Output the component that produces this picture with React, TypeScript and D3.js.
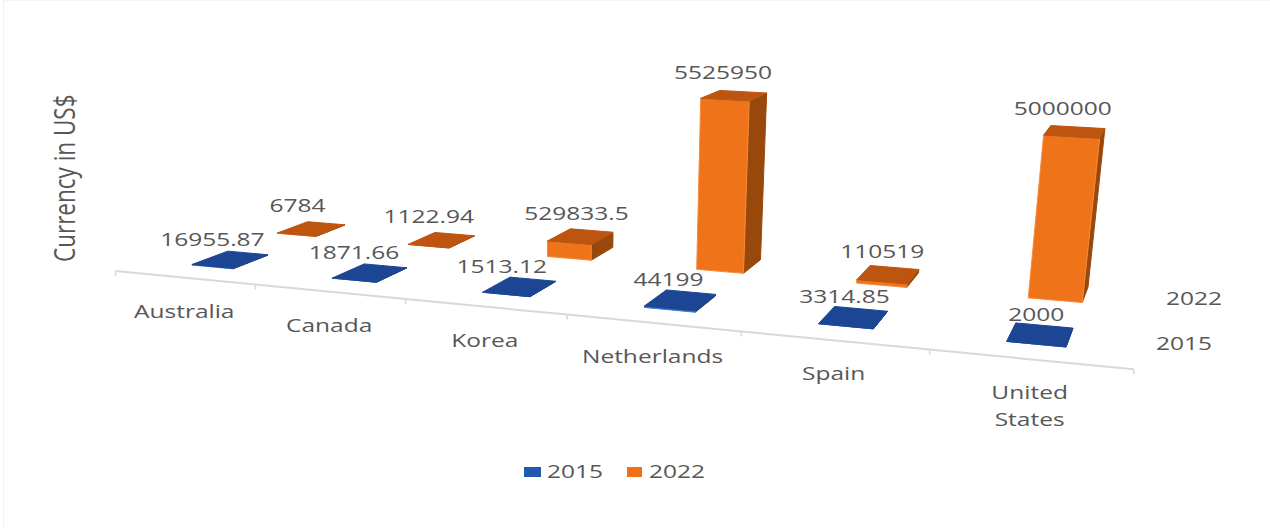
import React from "react";
import * as d3 from "d3";

// Chart data
const categories = ["Australia", "Canada", "Korea", "Netherlands", "Spain", "United States"];
const seriesNames = ["2015", "2022"];
const values2015 = [16955.87, 1871.66, 1513.12, 44199, 3314.85, 2000];
const values2022 = [6784, 1122.94, 529833.5, 5525950, 110519, 5000000];
const labels2015 = ["16955.87", "1871.66", "1513.12", "44199", "3314.85", "2000"];
const labels2022 = ["6784", "1122.94", "529833.5", "5525950", "110519", "5000000"];

// Small sideways label shifts, per category
const labelDx2015 = [-18, -16, -18, -12, -9, -4];
const labelDx2022 = [-14, -13, -4, -11, -6, -12];

const WIDTH = 1270;
const HEIGHT = 528;
const TEXT = "#575757";
const FONT = "'Open Sans', sans-serif";
const STRETCH = 1.29;

const blueFaces = { top: "#1c4593", front: "#2a62bd", side: "#173a7c", edge: "#3f78cf" };
const orangeFaces = { top: "#bd5410", front: "#ef7419", side: "#99480c", edge: "#f58a3a" };

// Extra foreshortening along the category axis
const warpU = (u: number) => u - 0.007 * u * (6 - u);

// Floor calibration: category/depth coordinates and where they land on screen
const floorFrom = [[0.35, 0.3], [5.65, 0.3], [0.65, 1.7], [5.65, 1.7]].map(([u, v]) => [warpU(u), v]);
const floorTo = [[192, 265], [1066, 347], [345, 225], [1088, 287]];
const verticalVanish = [586, 5000];

function solveHomography(from: number[][], to: number[][]) {
  const m: number[][] = [];
  from.forEach(([u, v], i) => {
    const [x, y] = to[i];
    m.push([u, v, 1, 0, 0, 0, -u * x, -v * x, x]);
    m.push([0, 0, 0, u, v, 1, -u * y, -v * y, y]);
  });
  for (let c = 0; c < 8; c++) {
    let p = c;
    for (let r = c + 1; r < 8; r++) if (Math.abs(m[r][c]) > Math.abs(m[p][c])) p = r;
    [m[c], m[p]] = [m[p], m[c]];
    for (let r = 0; r < 8; r++) {
      if (r === c) continue;
      const f = m[r][c] / m[c][c];
      for (let k = c; k < 9; k++) m[r][k] -= f * m[c][k];
    }
  }
  return m.map((row, i) => row[8] / row[i]);
}

const H = solveHomography(floorFrom, floorTo);

const uScale = d3.scaleBand<string>().domain(categories).range([0, 6]).paddingInner(0.7).paddingOuter(0.35);
const vScale = d3.scaleBand<string>().domain(seriesNames).range([0, 2]).paddingInner(0.6).paddingOuter(0.3);
// Bar height in camera units; the tallest bar (Netherlands 2022) rises 171px on screen
const floorHom = (rawU: number, v: number) => {
  const u = warpU(rawU);
  return [
    H[0] * u + H[1] * v + H[2],
    H[3] * u + H[4] * v + H[5],
    H[6] * u + H[7] * v + 1,
  ];
};
const refFloor = floorHom(uScale("Netherlands") as number, vScale("2022") as number);
const refY = refFloor[1] / refFloor[2];
const refT = -171 / (verticalVanish[1] - refY);
const refLift = (refT * refFloor[2]) / (1 - refT);
const hScale = d3.scaleLinear().domain([0, d3.max(values2022) as number]).range([0, refLift]);

function project(u: number, v: number, value: number): [number, number] {
  const [X, Y, W] = floorHom(u, v);
  const l = hScale(value);
  return [(X + l * verticalVanish[0]) / (W + l), (Y + l * verticalVanish[1]) / (W + l)];
}

const polygon = d3.line().curve(d3.curveLinearClosed);
const segment = d3.line();

function Label({ x, y, text, size = 19, rotate = 0, anchor = "middle" }: any) {
  return (
    <text
      transform={`translate(${x},${y}) scale(${STRETCH},1) rotate(${rotate})`}
      textAnchor={anchor}
      fontFamily={FONT}
      fontSize={size}
      fill={TEXT}
    >
      {text}
    </text>
  );
}

function Bar({ category, series, value, faces }: any) {
  const u0 = uScale(category) as number;
  const u1 = u0 + uScale.bandwidth();
  const v0 = vScale(series) as number;
  const v1 = v0 + vScale.bandwidth();
  const topFace = [project(u0, v0, value), project(u1, v0, value), project(u1, v1, value), project(u0, v1, value)];
  const front = [project(u0, v0, 0), project(u1, v0, 0), project(u1, v0, value), project(u0, v0, value)];
  const side = [project(u1, v0, 0), project(u1, v1, 0), project(u1, v1, value), project(u1, v0, value)];
  return (
    <g strokeWidth={1} strokeLinejoin="round">
      <path d={polygon(side) as string} fill={faces.side} stroke={faces.side} />
      <path d={polygon(front) as string} fill={faces.front} stroke={faces.edge} />
      <path d={polygon(topFace) as string} fill={faces.top} stroke={faces.top} />
    </g>
  );
}

export default function App() {
  const rows = [
    { series: "2022", values: values2022, labels: labels2022, faces: orangeFaces, dx: labelDx2022, dy: -17 },
    { series: "2015", values: values2015, labels: labels2015, faces: blueFaces, dx: labelDx2015, dy: -14 },
  ];
  const axisPoints = d3.range(0, 7).map((u) => project(u, 0, 0));
  return (
    <svg
      width={WIDTH}
      height={HEIGHT}
      viewBox={`0 0 ${WIDTH} ${HEIGHT}`}
      style={{ position: "absolute", left: 0, top: 0, background: "#fff" }}
    >
      <line x1={3.5} x2={3.5} y1={0} y2={HEIGHT} stroke="#f0f0f0" />
      <line x1={3} x2={WIDTH} y1={0.5} y2={0.5} stroke="#f4f4f4" />

      <Label x={75} y={262} text="Currency in US$" size={22.5} rotate={-90} anchor="start" />

      {/* Category axis along the front of the floor */}
      <path d={segment(axisPoints) as string} fill="none" stroke="#d9d9d9" strokeWidth={2} />
      {axisPoints.map(([x, y], u) => (
        <line key={u} x1={x} x2={x} y1={y} y2={y + 5} stroke="#d9d9d9" strokeWidth={1.5} />
      ))}

      {rows.map((row) =>
        categories.map((c, i) => (
          <Bar key={row.series + c} category={c} series={row.series} value={row.values[i]} faces={row.faces} />
        ))
      )}

      {rows.map((row) =>
        categories.map((c, i) => {
          const u = (uScale(c) as number) + uScale.bandwidth() / 2;
          const v = (vScale(row.series) as number) + vScale.bandwidth() / 2;
          const [x, y] = project(u, v, row.values[i]);
          return <Label key={row.series + c} x={x + row.dx[i]} y={y + row.dy} text={row.labels[i]} />;
        })
      )}

      {categories.map((c, i) => {
        const [x, y] = project(i + 0.5, 0, 0);
        const lines = c === "United States" ? ["United", "States"] : [c];
        return lines.map((t, k) => <Label key={t} x={x} y={y + 40 + k * 27} text={t} />);
      })}

      {/* Depth axis labels */}
      <Label x={1194} y={305} text="2022" />
      <Label x={1184} y={350} text="2015" />

      {/* Legend */}
      <rect x={524} y={467} width={17} height={10} fill="#2158b0" />
      <Label x={547} y={478} text="2015" anchor="start" />
      <rect x={627} y={467} width={15} height={10} fill="#ee7118" />
      <Label x={649} y={478} text="2022" anchor="start" />
    </svg>
  );
}
